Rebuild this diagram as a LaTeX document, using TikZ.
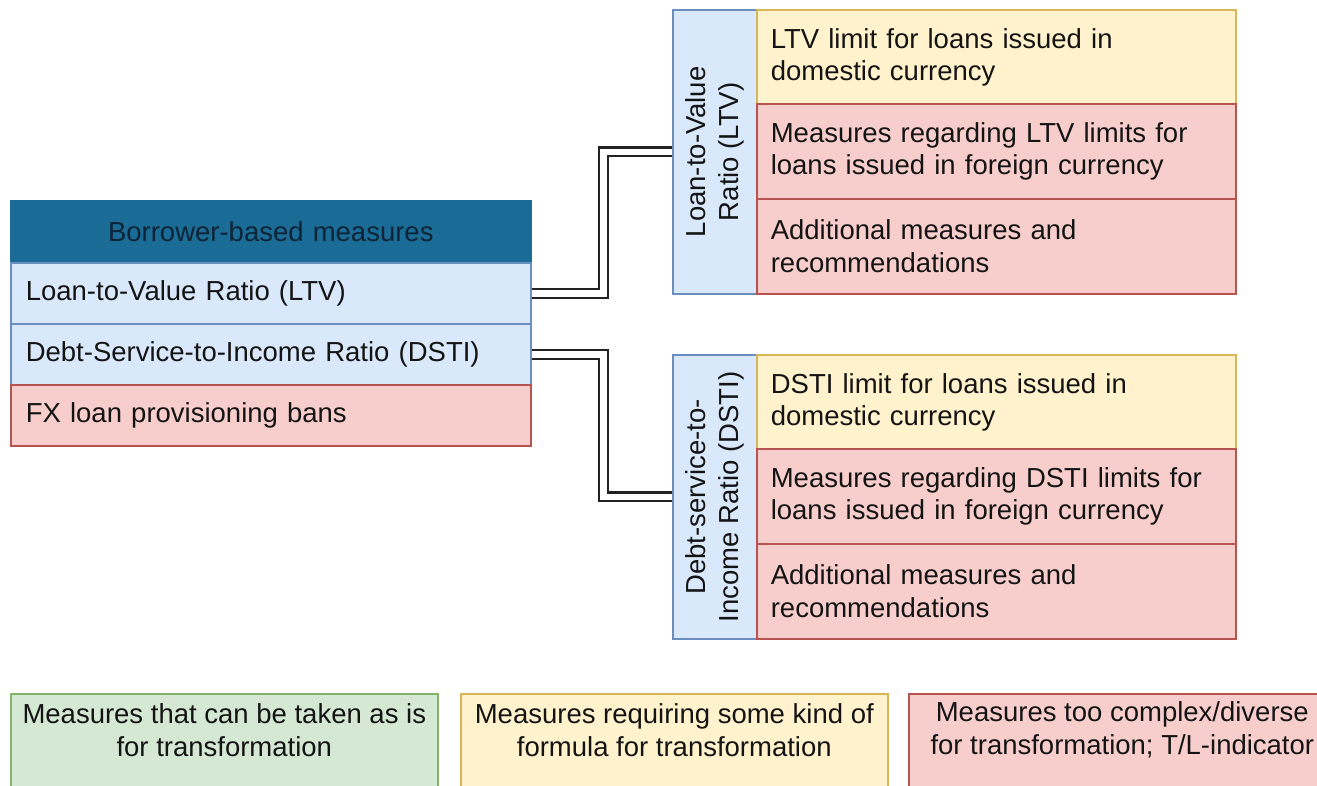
\documentclass[tikz,border=0pt]{standalone}
\usepackage{fontspec}
\setmainfont{Liberation Sans}
\definecolor{headfill}{HTML}{1A6C96}
\definecolor{headtext}{HTML}{0E2436}
\definecolor{bluef}{HTML}{DAE8FC}
\definecolor{blued}{HTML}{6C8EBF}
\definecolor{yelf}{HTML}{FFF2CC}
\definecolor{yeld}{HTML}{D6B656}
\definecolor{redf}{HTML}{F8CECC}
\definecolor{redd}{HTML}{B85450}
\definecolor{grnf}{HTML}{D5E8D4}
\definecolor{grnd}{HTML}{82B366}
\definecolor{ink}{HTML}{141414}
\definecolor{wire}{HTML}{222222}
\begin{document}
\begin{tikzpicture}[x=1pt,y=-1pt,
  every node/.style={font=\fontsize{27.5}{32.5}\selectfont, text=ink},
  box/.style={anchor=north west, line width=1.6pt, inner sep=0pt},
  lrow/.style={box, minimum width=520pt, minimum height=61pt,
    text width=490pt, inner xsep=15pt, align=left},
  cell/.style={box, minimum width=479pt, minimum height=95pt,
    text width=451pt, inner xsep=14pt, align=left},
  sidebox/.style={box, fill=bluef, draw=blued, minimum width=84pt, minimum height=284pt},
  sidetext/.style={rotate=90, align=center},
  legbox/.style={box, minimum width=427pt, minimum height=120pt},
  legtext/.style={anchor=center, align=center},
  link/.style={draw=wire, line width=2.2pt, double=white, double distance=6.5pt, line join=miter}]
\clip (0,0) rectangle (1317,785);
\fill[white] (0,0) rectangle (1317,785);

% main list of borrower-based measures
\node[lrow, fill=headfill, draw=headfill, align=center, text=headtext] (head) at (10,200) {Borrower-based measures};
\node[lrow, fill=bluef, draw=blued] (ltv) at (10,262) {Loan-to-Value Ratio (LTV)};
\node[lrow, fill=bluef, draw=blued] (dsti) at (10,323) {Debt-Service-to-Income Ratio (DSTI)};
\node[lrow, fill=redf, draw=redd] (fx) at (10,384) {FX loan provisioning bans};

% LTV group
\node[sidebox] (ltvlab) at (672,9) {};
\node[sidetext] (ltvlabt) at (ltvlab.center) {Loan-to-Value\\Ratio (LTV)};
\node[cell, fill=yelf, draw=yeld] (ltv1) at (756,9) {LTV limit for loans issued in\\domestic currency};
\node[cell, fill=redf, draw=redd] (ltv2) at (756,103) {Measures regarding LTV limits for\\loans issued in foreign currency};
\node[cell, fill=redf, draw=redd] (ltv3) at (756,198) {Additional measures and\\recommendations};

% DSTI group
\node[sidebox] (dstilab) at (672,354) {};
\node[sidetext] (dstilabt) at (dstilab.center) {Debt-service-to-\\Income Ratio (DSTI)};
\node[cell, fill=yelf, draw=yeld] (dsti1) at (756,354) {DSTI limit for loans issued in\\domestic currency};
\node[cell, fill=redf, draw=redd] (dsti2) at (756,448) {Measures regarding DSTI limits for\\loans issued in foreign currency};
\node[cell, fill=redf, draw=redd] (dsti3) at (756,543) {Additional measures and\\recommendations};

% connectors
\draw[link] (ltv.east) -- ++(72,0) |- (ltvlab.west);
\draw[link] (dsti.east) -- ++(72,0) |- (dstilab.west);

% legend
\node[legbox, fill=grnf, draw=grnd] (lgA) at (10,693) {};
\node[legbox, fill=yelf, draw=yeld] (lgB) at (460,693) {};
\node[legbox, fill=redf, draw=redd] (lgC) at (908,693) {};
\node[legtext] (lgAt) at ([yshift=-37pt]lgA.north) {Measures that can be taken as is\\for transformation};
\node[legtext] (lgBt) at ([yshift=-37pt]lgB.north) {Measures requiring some kind of\\formula for transformation};
\node[legtext] (lgCt) at ([yshift=-37pt]lgC.north) {Measures too complex/diverse\\for transformation; T/L-indicator};
\end{tikzpicture}
\end{document}
